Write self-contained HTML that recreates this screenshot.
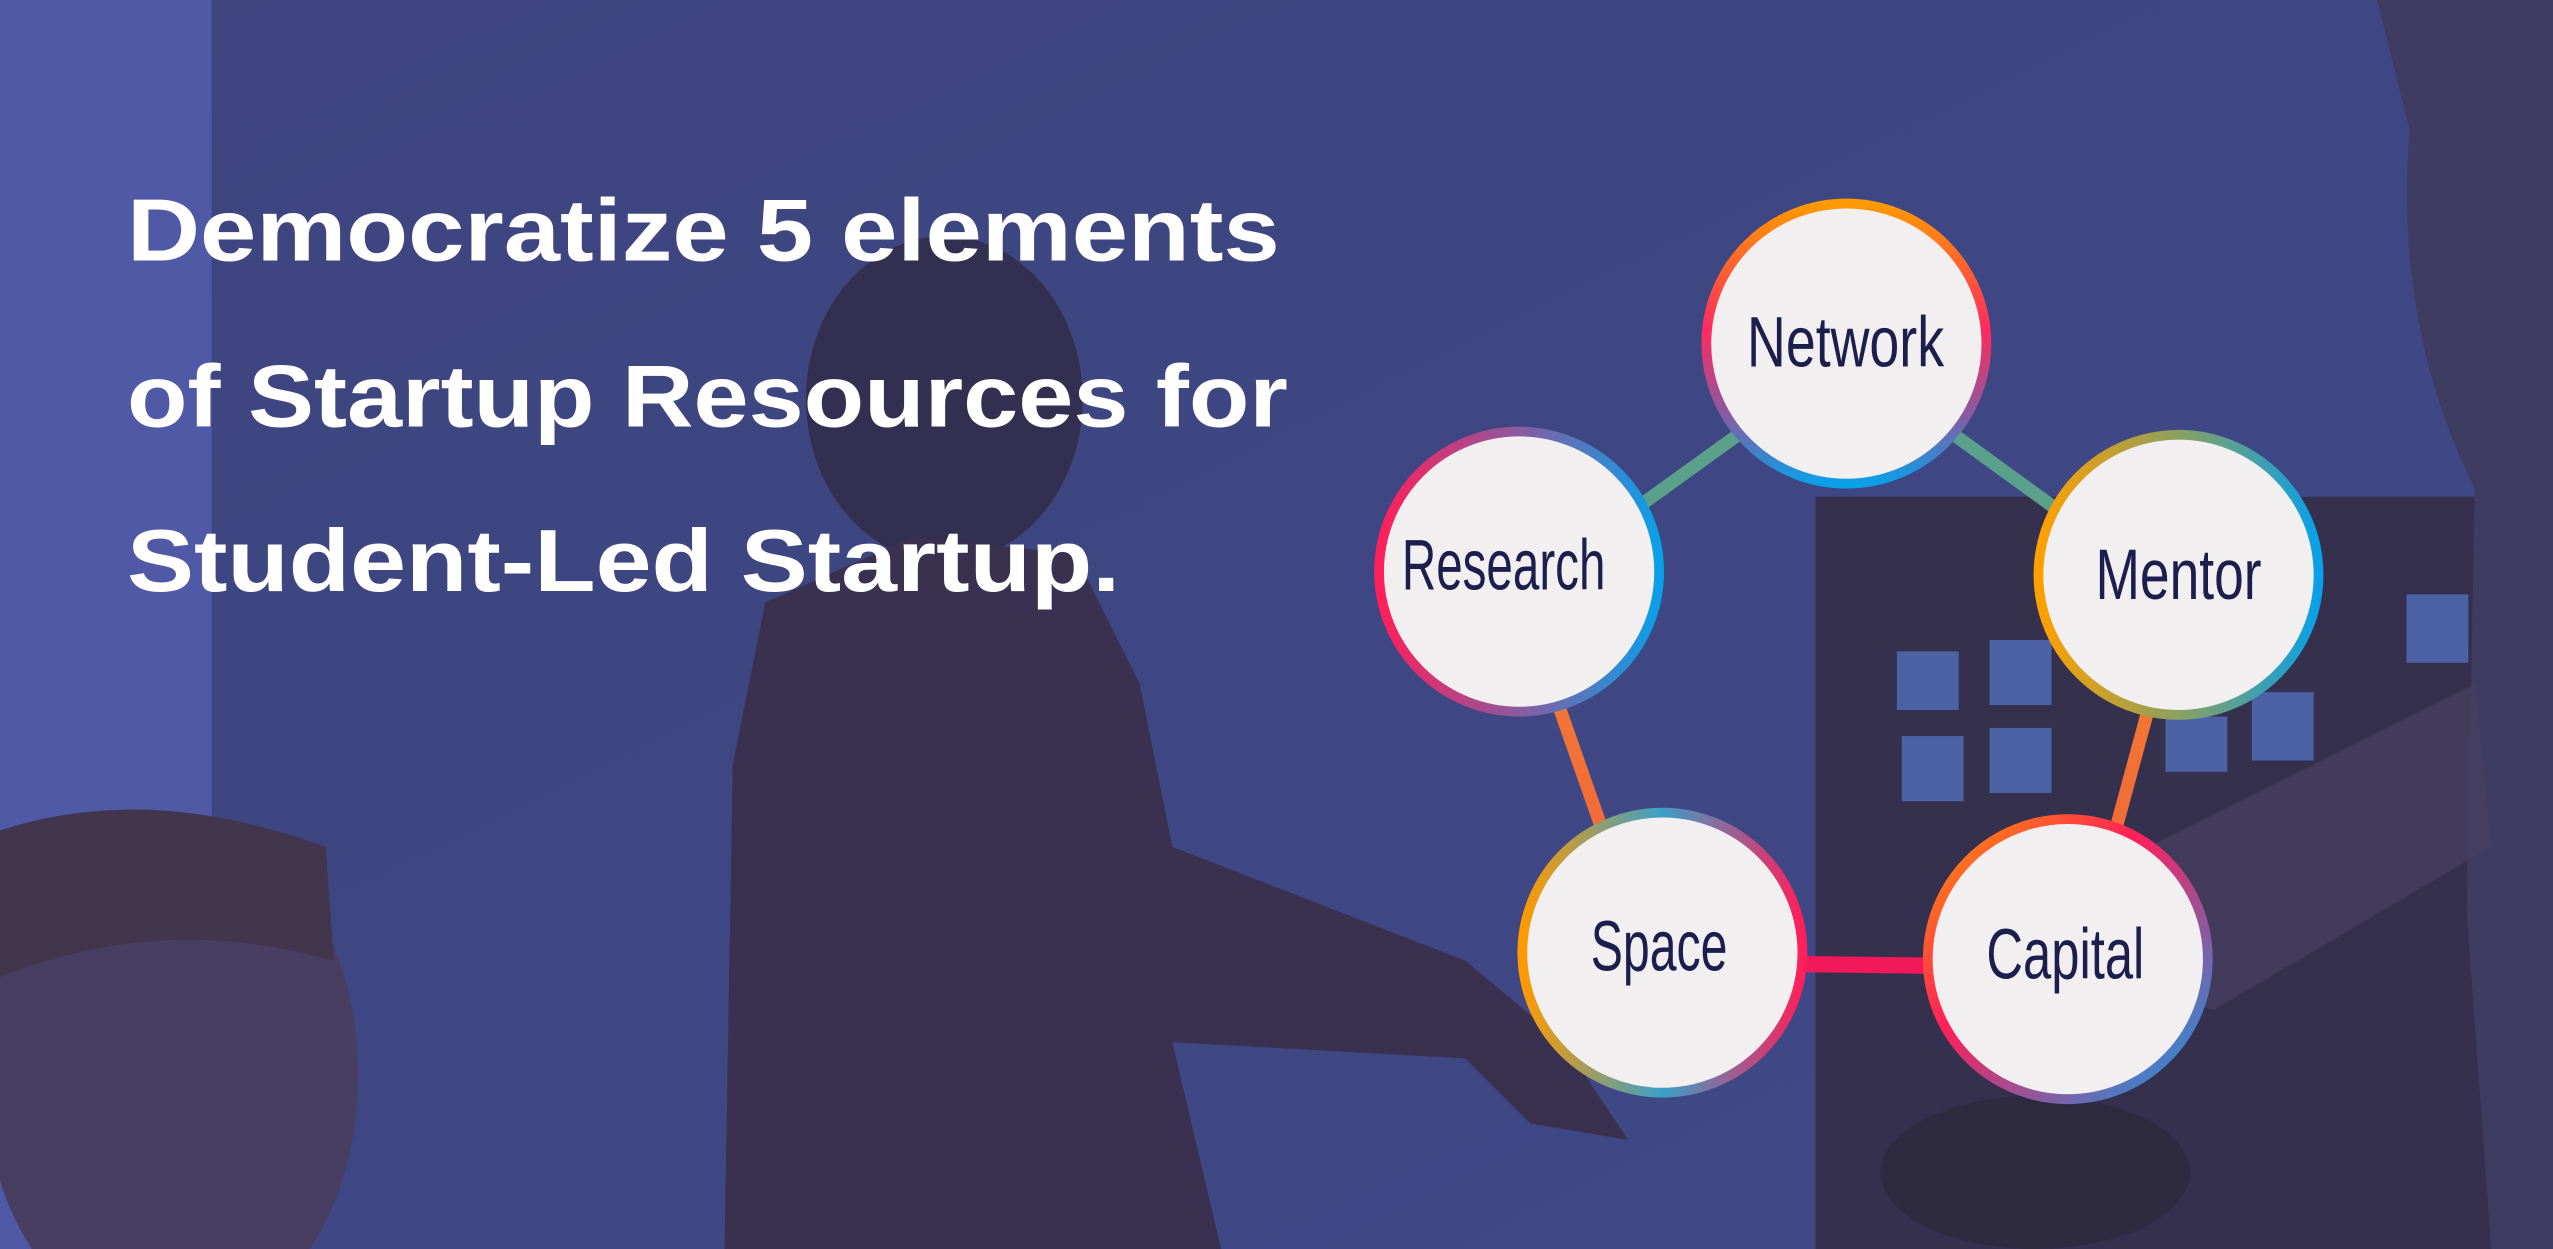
<!DOCTYPE html>
<html><head><meta charset="utf-8"><style>
html,body{margin:0;padding:0;background:#3e4680;width:2553px;height:1249px;overflow:hidden;position:relative;}
svg{display:block;position:absolute;left:0;top:0}
</style></head><body>
<svg width="2553" height="1249" viewBox="0 0 1568 767" preserveAspectRatio="none" xmlns="http://www.w3.org/2000/svg">
<defs>
<linearGradient id="bg" x1="0" y1="0" x2="1" y2="1"><stop offset="0" stop-color="#3d447e"/><stop offset="1" stop-color="#404a88"/></linearGradient>
<linearGradient id="g1" x1="0" y1="0" x2="0" y2="1"><stop offset="0" stop-color="#ff9a00"/><stop offset=".45" stop-color="#ff2a5f"/><stop offset=".75" stop-color="#8a5aa0"/><stop offset="1" stop-color="#0aa0e8"/></linearGradient>
<linearGradient id="g2" x1="0" y1="0" x2="1" y2="0"><stop offset="0" stop-color="#ff1f5a"/><stop offset=".5" stop-color="#8a5aa0"/><stop offset="1" stop-color="#0aa0e8"/></linearGradient>
<linearGradient id="g3" x1="0" y1="0" x2="1" y2="0"><stop offset="0" stop-color="#ffa000"/><stop offset=".5" stop-color="#8aa060"/><stop offset="1" stop-color="#0aa0e8"/></linearGradient>
<linearGradient id="g4" x1="0" y1="0" x2="1" y2="0"><stop offset="0" stop-color="#ff9a00"/><stop offset=".5" stop-color="#3aa0c8"/><stop offset="1" stop-color="#ff1f5a"/></linearGradient>
<linearGradient id="g5" x1="0" y1="0" x2="1" y2="1"><stop offset="0" stop-color="#ff9a00"/><stop offset=".4" stop-color="#ff1f5a"/><stop offset=".7" stop-color="#8a5aa0"/><stop offset="1" stop-color="#0aa0e8"/></linearGradient>
<linearGradient id="or" x1="0" y1="0" x2="0" y2="1"><stop offset="0" stop-color="#f08030"/><stop offset="1" stop-color="#f45a40"/></linearGradient>
</defs>
<rect width="1568" height="767" fill="url(#bg)"/>
<rect x="0" y="0" width="130" height="767" fill="#4f59a6"/>
<rect x="1115" y="305" width="425" height="462" fill="#35304e"/>
<g fill="#4d62a4"><rect x="1165" y="400" width="38" height="36"/><rect x="1222" y="393" width="38" height="40"/><rect x="1168" y="452" width="38" height="40"/><rect x="1222" y="447" width="38" height="40"/><rect x="1330" y="440" width="38" height="34"/><rect x="1383" y="425" width="38" height="42"/><rect x="1478" y="365" width="38" height="42"/></g>
<path d="M1460 0 L1568 0 L1568 767 L1530 767 L1515 560 L1520 300 Q1470 200 1480 80 Z" fill="#3f3c62"/>
<path d="M1320 520 L1520 420 L1530 520 L1360 620 L1300 610 Z" fill="#463f60" opacity=".8"/>
<ellipse cx="105" cy="660" rx="115" ry="160" fill="#473e62"/>
<path d="M0 510 Q90 480 200 520 L205 590 Q100 560 0 600 Z" fill="#42364e"/>
<ellipse cx="580" cy="245" rx="85" ry="100" fill="#332f50"/>
<path d="M470 370 L560 330 L660 340 L700 420 L720 520 L900 590 L960 640 L1000 700 L940 690 L900 650 L720 640 L750 767 L445 767 L450 470 Z" fill="#3a3050"/>
<ellipse cx="1250" cy="720" rx="95" ry="47" fill="#2e2a40"/>
<g stroke-width="8" stroke-linecap="butt">
<line x1="1134" y1="219" x2="933" y2="364" stroke="#5aa08a"/>
<line x1="1134" y1="219" x2="1338" y2="367" stroke="#5aa08a"/>
<line x1="933" y1="364" x2="1021" y2="615" stroke="url(#or)"/>
<line x1="1338" y1="367" x2="1270" y2="618" stroke="url(#or)"/>
<line x1="1021" y1="591" x2="1270" y2="594" stroke="#f2185a" stroke-width="10"/>
</g>
<g fill="#f2eff0" stroke-width="6">
<circle cx="1134" cy="211" r="86" stroke="url(#g1)"/>
<circle cx="933" cy="351" r="86" stroke="url(#g2)"/>
<circle cx="1338" cy="353" r="86" stroke="url(#g3)"/>
<circle cx="1021" cy="585" r="86" stroke="url(#g4)"/>
<circle cx="1270" cy="589" r="86" stroke="url(#g5)"/>
</g>
<g font-family="Liberation Sans, sans-serif" font-size="44" fill="#1c1f4e" text-anchor="start">
<text x="1073" y="225" textLength="121" lengthAdjust="spacingAndGlyphs">Network</text>
<text x="861" y="362" textLength="125" lengthAdjust="spacingAndGlyphs">Research</text>
<text x="1287" y="368" textLength="102" lengthAdjust="spacingAndGlyphs">Mentor</text>
<text x="977" y="596" textLength="84" lengthAdjust="spacingAndGlyphs">Space</text>
<text x="1220" y="601" textLength="97" lengthAdjust="spacingAndGlyphs">Capital</text>
</g>
<g font-family="Liberation Sans, sans-serif" font-weight="bold" font-size="54" fill="#ffffff">
<text x="78" y="160" textLength="708" lengthAdjust="spacingAndGlyphs">Democratize 5 elements</text>
<text x="78" y="262" textLength="713" lengthAdjust="spacingAndGlyphs">of Startup Resources for</text>
<text x="78" y="363" textLength="610" lengthAdjust="spacingAndGlyphs">Student-Led Startup.</text>
</g>
</svg>
</body></html>
